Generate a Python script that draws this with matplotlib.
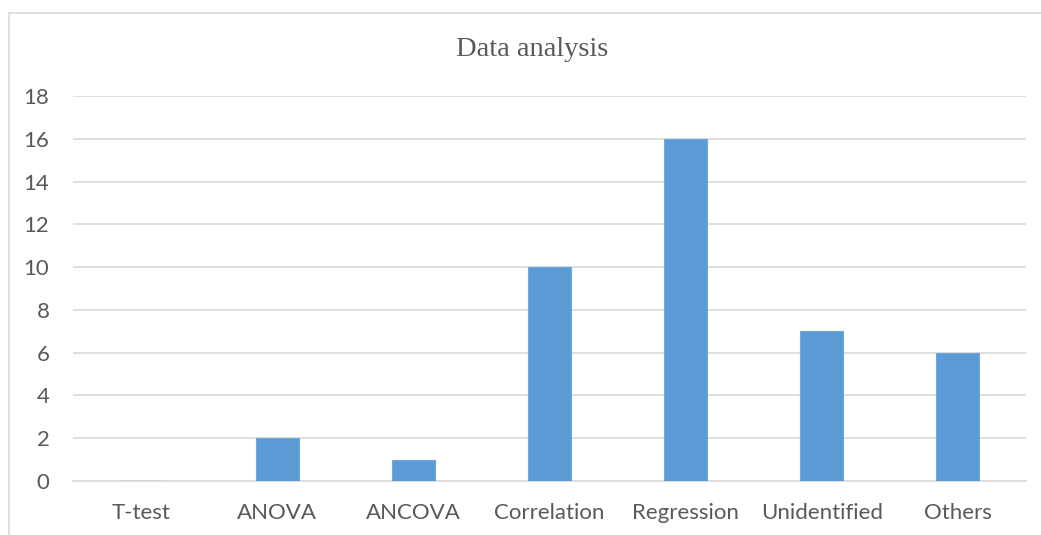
import matplotlib
matplotlib.use("Agg")
import matplotlib.pyplot as plt
from matplotlib.patches import Rectangle

categories = ["T-test", "ANOVA", "ANCOVA", "Correlation", "Regression", "Unidentified", "Others"]
values = [0, 2, 1, 10, 16, 7, 6]
yticks = [0, 2, 4, 6, 8, 10, 12, 14, 16, 18]
title = "Data analysis"

W, H = 1041, 535
fig = plt.figure(figsize=(W / 100, H / 100), dpi=100)
fig.patch.set_facecolor("white")

# chart border (left and top visible)
fig.patches.append(Rectangle((8.5 / W, -0.1), 1.2, 1.1 - 12.5 / H + 0.0,
                             transform=fig.transFigure, fill=False,
                             edgecolor="#D9D9D9", linewidth=1.2))

left, right = 73 / W, 1026 / W
bottom, top = 1 - 481 / H, 1 - 96 / H
ax = fig.add_axes([left, bottom, right - left, top - bottom])

x = range(len(categories))
ax.bar(x, values, width=0.315, color="#5B9BD5", edgecolor="#6FA8DC", linewidth=0.8, zorder=3)
ax.set_xlim(-0.5, len(categories) - 0.5)
ax.set_ylim(0, 18)
ax.set_yticks(yticks)
ax.set_xticks(list(x))
ax.set_xticklabels(categories)
ax.grid(axis="y", color="#D9D9D9", linewidth=1.2, zorder=0)
for s in ["top", "right", "left"]:
    ax.spines[s].set_visible(False)
ax.spines["bottom"].set_color("#D9D9D9")
ax.spines["bottom"].set_linewidth(1.2)
ax.tick_params(axis="both", length=0, colors="#595959", labelsize=16)
ax.tick_params(axis="y", pad=17)
ax.tick_params(axis="x", pad=16)
for lbl in ax.get_xticklabels() + ax.get_yticklabels():
    lbl.set_fontfamily("Lato")

fig.text(532 / W, 1 - 49 / H, title, ha="center", va="center",
         fontfamily="Liberation Serif", fontsize=20.5, color="#595959")

fig.savefig("out.png", dpi=100, facecolor="white")
